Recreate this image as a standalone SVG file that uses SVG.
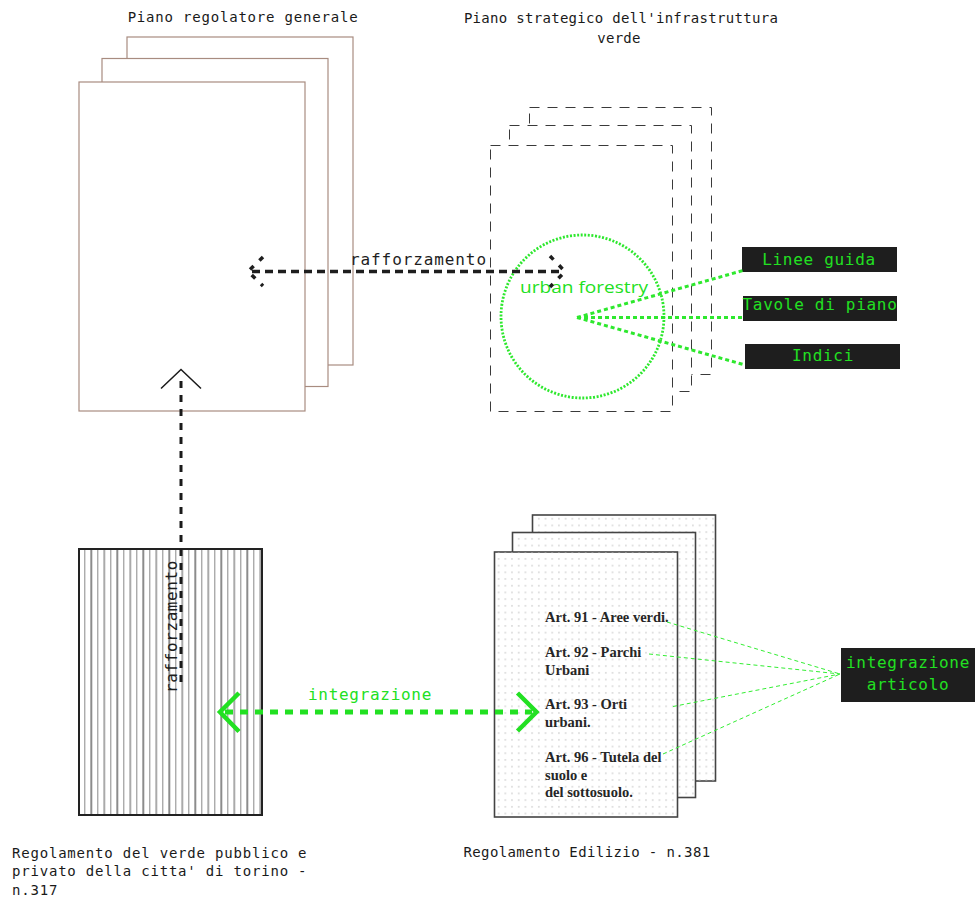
<svg xmlns="http://www.w3.org/2000/svg" width="976" height="903" viewBox="0 0 976 903">
<defs>
<pattern id="dots" width="6.7" height="6.7" patternUnits="userSpaceOnUse">
<rect x="2" y="2" width="1.6" height="1.6" fill="#d6d6d6"/>
</pattern>
<pattern id="hatch" x="84.3" y="0" width="26" height="10" patternUnits="userSpaceOnUse">
<line x1="0.5" y1="0" x2="0.5" y2="10" stroke="#888" stroke-width="1"/>
<line x1="7" y1="0" x2="7" y2="10" stroke="#1a1a1a" stroke-width="1"/>
<line x1="13.5" y1="0" x2="13.5" y2="10" stroke="#888" stroke-width="1"/>
<line x1="20" y1="0" x2="20" y2="10" stroke="#555" stroke-width="1"/>
</pattern>
<style>
.mono{font-family:"DejaVu Sans Mono","Liberation Mono",monospace;}
.lbl{font-size:14px;letter-spacing:0.8px;fill:#1a1a1a;}
.gtx{font-size:16px;letter-spacing:0.7px;fill:#22e022;}
.brown{fill:#fff;stroke:#a88c80;stroke-width:1.2;}
.dash{fill:#fff;stroke:#3a3a3a;stroke-width:1;stroke-dasharray:10 8;}
.doc{fill:#fff;stroke:#444;stroke-width:1.6;}
.dotfill{fill:url(#dots);stroke:none;}
.art{font-family:"Liberation Serif","DejaVu Serif",serif;font-weight:bold;font-size:14.5px;fill:#262626;}
.box{fill:#1e1e1e;}
.gdot{stroke:#2ee82e;stroke-width:3;stroke-dasharray:4 3;fill:none;}
.gthin{stroke:#33ee33;stroke-width:1;stroke-dasharray:4 3;fill:none;}
.blk{stroke:#1e1e1e;stroke-width:3.5;stroke-dasharray:8 5;fill:none;}
</style>
</defs>
<rect width="976" height="903" fill="#fff"/>

<g id="piano-regolatore">
<rect class="brown" x="127" y="37" width="226" height="328"/>
<rect class="brown" x="102" y="58.5" width="226" height="328"/>
<rect class="brown" x="79" y="82" width="226" height="329"/>
<text class="mono lbl" x="243" y="22" text-anchor="middle">Piano regolatore generale</text>
</g>

<g id="piano-strategico">
<rect class="dash" x="529.5" y="107.5" width="182" height="267"/>
<rect class="dash" x="509.5" y="125.5" width="182" height="266"/>
<rect class="dash" x="490.5" y="145.5" width="182" height="266"/>
<text class="mono lbl" x="621" y="23" text-anchor="middle" style="letter-spacing:0.3px">Piano strategico dell'infrastruttura</text>
<text class="mono lbl" x="619" y="43" text-anchor="middle" style="letter-spacing:0.3px">verde</text>
</g>

<g id="urban-forestry">
<circle cx="582.5" cy="316.5" r="81.5" fill="none" stroke="#2ee82e" stroke-width="2.8" stroke-dasharray="2 1.6"/>
<text x="584" y="293" text-anchor="middle" font-family="'Open Sans','Liberation Sans',sans-serif" font-size="17" font-weight="500" fill="#22e022" textLength="128" lengthAdjust="spacingAndGlyphs">urban forestry</text>
</g>

<g id="linee-guida">
<rect class="box" x="742" y="247" width="155" height="25"/>
<text class="mono gtx" x="819" y="265" text-anchor="middle">Linee guida</text>
</g>
<g id="tavole-di-piano">
<rect class="box" x="743" y="296" width="154" height="25"/>
<text class="mono gtx" x="820" y="310" text-anchor="middle">Tavole di piano</text>
</g>
<g id="indici">
<rect class="box" x="745" y="344" width="155" height="25"/>
<text class="mono gtx" x="823" y="361" text-anchor="middle">Indici</text>
</g>

<g id="regolamento-verde">
<rect x="79" y="549" width="183" height="266" fill="url(#hatch)" stroke="none"/>
<rect x="79" y="549" width="183" height="266" fill="none" stroke="#222" stroke-width="2"/>
<text class="mono lbl" x="12" y="858">Regolamento del verde pubblico e</text>
<text class="mono lbl" x="12" y="876">privato della citta' di torino -</text>
<text class="mono lbl" x="12" y="895">n.317</text>
</g>

<g id="regolamento-edilizio">
<rect class="doc" x="532.5" y="515" width="183" height="266"/>
<rect class="dotfill" x="533" y="515.5" width="182" height="265"/>
<rect class="doc" x="512.5" y="532.5" width="183" height="265"/>
<rect class="dotfill" x="513" y="533" width="182" height="264"/>
<rect class="doc" x="494.5" y="552" width="183" height="265"/>
<rect class="dotfill" x="495" y="552.5" width="182" height="264"/>
<text class="art" x="545" y="622">Art. 91 - Aree verdi.</text>
<text class="art" x="545" y="657">Art. 92 - Parchi</text>
<text class="art" x="545" y="675">Urbani</text>
<text class="art" x="545" y="709">Art. 93 - Orti</text>
<text class="art" x="545" y="727">urbani.</text>
<text class="art" x="545" y="762">Art. 96 - Tutela del</text>
<text class="art" x="545" y="780">suolo e</text>
<text class="art" x="545" y="797">del sottosuolo.</text>
<text class="mono lbl" x="587" y="857" text-anchor="middle" style="letter-spacing:0.4px">Regolamento Edilizio - n.381</text>
</g>

<g id="integrazione-articolo">
<rect class="box" x="841" y="648" width="134" height="54"/>
<text class="mono gtx" x="908" y="668" text-anchor="middle">integrazione</text>
<text class="mono gtx" x="908" y="690" text-anchor="middle">articolo</text>
</g>

<g id="connectors">
<line class="blk" x1="252" y1="271.5" x2="562" y2="271.5"/>
<polyline points="263,257 248,271.5 263,286" fill="none" stroke="#1e1e1e" stroke-width="3.5" stroke-dasharray="5 8"/>
<polyline points="550,256 565,271.5 550,287" fill="none" stroke="#1e1e1e" stroke-width="3.5" stroke-dasharray="5 8"/>
<text class="mono" x="350" y="265" font-size="16" fill="#1e1e1e" style="letter-spacing:0.9px">rafforzamento</text>
<line x1="181" y1="381" x2="181" y2="686" stroke="#1a1a1a" stroke-width="3" stroke-dasharray="7 7"/>
<polyline points="161,388.5 181,369.5 201,388.5" fill="none" stroke="#1a1a1a" stroke-width="1.5"/>
<text class="mono" transform="translate(177,693) rotate(-90)" font-size="16" fill="#1e1e1e" style="letter-spacing:0.6px">rafforzamento</text>
<line class="gdot" x1="577" y1="317.5" x2="743" y2="270.5"/>
<line class="gdot" x1="577" y1="317.5" x2="743" y2="317.5"/>
<line class="gdot" x1="577" y1="317.5" x2="745" y2="365"/>
<line x1="225" y1="712" x2="532" y2="712" stroke="#22e022" stroke-width="5" stroke-dasharray="8 7"/>
<polyline points="239,693 220,712 239,731.5" fill="none" stroke="#22e022" stroke-width="4.5"/>
<polyline points="517.5,693 536.5,712 517.5,731" fill="none" stroke="#22e022" stroke-width="4.5"/>
<text class="mono gtx" x="308" y="700">integrazione</text>
<line class="gthin" x1="667" y1="622" x2="840" y2="674"/>
<line class="gthin" x1="649" y1="654" x2="840" y2="674"/>
<line class="gthin" x1="673" y1="706.5" x2="840" y2="674"/>
<line class="gthin" x1="663" y1="754" x2="840" y2="674"/>
</g>
</svg>
